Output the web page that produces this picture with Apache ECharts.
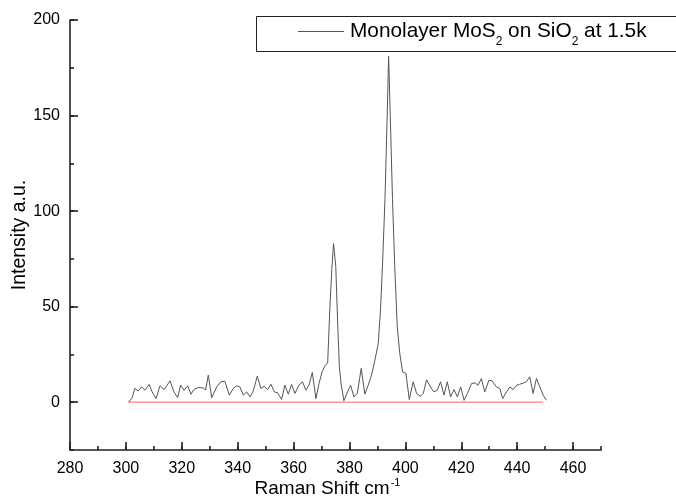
<!DOCTYPE html>
<html>
<head>
<meta charset="utf-8">
<script src="https://cdn.jsdelivr.net/npm/echarts@6/dist/echarts.min.js"></script>
<style>
  html, body { margin: 0; padding: 0; background: #fff; }
  #chart { width: 676px; height: 500px; }
</style>
</head>
<body>
<div id="chart"></div>
<script>
// Raman spectrum of monolayer MoS2 on SiO2
const shifts = [
  300.9, 302.1, 303.2, 304.4, 305.6, 306.8, 308.3, 309.4, 310.8, 312.2,
  313.7, 315.8, 317.2, 318.5, 319.6, 320.8, 322.1, 323.3, 324.3, 325.9,
  327.7, 328.5, 329.5, 330.7, 332.5, 334.0, 335.4, 337.0, 338.4, 339.6,
  340.8, 342.0, 343.2, 344.4, 345.6, 347.0, 348.3, 349.5, 350.7, 351.9,
  353.1, 354.3, 355.7, 356.9, 358.1, 359.3, 360.5, 361.9, 363.2, 364.4,
  365.5, 366.7, 368.0, 369.1, 370.2, 371.2, 372.2, 373.0, 373.7, 374.3,
  375.1, 375.8, 376.4, 377.0, 378.0, 379.3, 380.4, 381.6, 382.8, 384.2,
  385.5, 386.7, 387.9, 389.1, 390.3, 391.1, 391.8, 392.7, 393.5, 394.0,
  394.6, 395.4, 396.2, 397.1, 398.0, 399.0, 400.2, 401.4, 402.8, 404.0,
  405.4, 406.4, 407.6, 409.0, 410.2, 411.4, 412.6, 413.8, 415.0, 416.2,
  417.4, 418.6, 419.8, 421.0, 422.2, 423.7, 424.9, 426.0, 427.2, 428.4,
  429.9, 431.0, 432.6, 433.8, 434.8, 436.2, 437.4, 438.6, 439.8, 440.9,
  442.4, 443.3, 444.5, 445.7, 446.9, 448.1, 449.3, 450.5
];
const intensities = [
  0.2, 1.9, 7.2, 5.9, 8.0, 6.3, 9.3, 5.4, 1.9, 8.6,
  6.6, 11.2, 5.4, 2.4, 8.9, 6.3, 8.6, 4.2, 6.6, 7.7,
  7.5, 6.3, 14.2, 2.4, 8.0, 10.7, 11.0, 3.7, 7.2, 8.6,
  8.0, 3.7, 5.4, 2.8, 5.9, 13.6, 7.2, 8.4, 6.6, 9.4,
  5.4, 4.9, 1.4, 8.9, 4.2, 9.3, 4.6, 8.9, 10.7, 6.3,
  8.9, 15.6, 1.9, 9.8, 15.9, 18.9, 20.6, 50, 70, 83,
  71, 40, 18, 9.8, 0.8, 5.4, 8.9, 2.8, 4.6, 17.7,
  4.2, 8.9, 14.2, 22, 30.8, 48.3, 71, 106, 150, 181,
  150, 106, 71, 39.5, 25.5, 15.9, 15.1, 1.4, 10.7, 4.6,
  3.1, 4.6, 11.7, 8.0, 5.4, 6.3, 10.7, 3.7, 10.7, 2.8,
  6.6, 2.8, 8.0, 1.0, 4.6, 9.8, 10.1, 8.9, 12.4, 5.4,
  11.5, 11.2, 8.0, 7.2, 1.9, 5.4, 8.0, 6.6, 8.9, 9.4,
  10.1, 10.7, 13.3, 4.6, 12.4, 8.0, 3.7, 1.0
];
// zero reference line
const baseShifts = [300.9, 449.3];
const baseValues = [0, 0];

const xMajorTicks = [280, 300, 320, 340, 360, 380, 400, 420, 440, 460];
const yMajorTicks = [0, 50, 100, 150, 200];

const seriesName = 'Monolayer MoS2 on SiO2 at 1.5k';
const FONT = 'Liberation Sans, Arial, sans-serif';
const AXIS_COLOR = '#222';

const chart = echarts.init(document.getElementById('chart'), null, { renderer: 'canvas' });

const axisLineStyle = { show: true, onZero: false, lineStyle: { color: AXIS_COLOR, width: 1.6 } };

chart.setOption({
  animation: false,
  backgroundColor: '#fff',
  grid: { left: 70, right: 75, top: 20, bottom: 50, containLabel: false, outerBoundsMode: 'none' },
  // frame around the legend, running off the right edge
  graphic: [
    {
      type: 'rect',
      left: 256, top: 16,
      shape: { width: 440, height: 35 },
      style: { fill: '#fff', stroke: '#222', lineWidth: 1 },
      z: 10
    }
  ],
  legend: {
    data: [seriesName],
    left: 298,
    top: 21,
    padding: 0,
    itemWidth: 46,
    itemHeight: 1.2,
    itemGap: 0,
    icon: 'rect',
    itemStyle: { color: '#555', borderWidth: 0 },
    formatter: () => '{a|Monolayer MoS}{s|2}{a| on SiO}{s|2}{a| at 1.5k}',
    z: 20,
    textStyle: {
      fontFamily: FONT,
      color: '#000',
      padding: [0, 0, 0, 1],
      rich: {
        a: { fontSize: 20.8, fontFamily: FONT, color: '#000', lineHeight: 32, verticalAlign: 'middle' },
        s: { fontSize: 12, fontFamily: FONT, color: '#000', lineHeight: 12, verticalAlign: 'bottom' }
      }
    }
  },
  xAxis: [
    {
      type: 'value', min: 280, max: 470, position: 'bottom',
      axisLine: axisLineStyle,
      splitLine: { show: false },
      axisTick: { show: true, inside: true, length: 8, customValues: xMajorTicks,
                  lineStyle: { color: AXIS_COLOR, width: 1.6 } },
      axisLabel: { customValues: xMajorTicks, margin: 11, color: '#000', fontSize: 16, fontFamily: FONT },
      name: '{a|Raman Shift cm}{b|-1}',
      nameLocation: 'middle',
      nameGap: 28,
      nameMoveOverlap: false,
      nameTextStyle: {
        padding: [0, 16, 0, 0],
        rich: {
          a: { fontSize: 19, fontFamily: FONT, color: '#000', lineHeight: 22 },
          b: { fontSize: 11, fontFamily: FONT, color: '#000', lineHeight: 22, padding: [0, 0, 12, 1] }
        }
      }
    },
    {
      // minor ticks
      type: 'value', min: 280, max: 470, interval: 10, position: 'bottom',
      axisLine: { show: false, onZero: false },
      splitLine: { show: false },
      axisTick: { show: true, inside: true, length: 4, lineStyle: { color: AXIS_COLOR, width: 1.6 } },
      axisLabel: { show: false }
    }
  ],
  yAxis: [
    {
      type: 'value', min: -25, max: 200, position: 'left',
      axisLine: axisLineStyle,
      splitLine: { show: false },
      axisTick: { show: true, inside: true, length: 8, customValues: yMajorTicks,
                  lineStyle: { color: AXIS_COLOR, width: 1.6 } },
      axisLabel: { customValues: yMajorTicks, margin: 10, color: '#000', fontSize: 16, fontFamily: FONT },
      name: 'Intensity a.u.',
      nameLocation: 'middle',
      nameGap: 40,
      nameMoveOverlap: false,
      nameTextStyle: { fontSize: 19.5, fontFamily: FONT, color: '#000' }
    },
    {
      // minor ticks
      type: 'value', min: -25, max: 200, interval: 25, position: 'left',
      axisLine: { show: false, onZero: false },
      splitLine: { show: false },
      axisTick: { show: true, inside: true, length: 4, lineStyle: { color: AXIS_COLOR, width: 1.6 } },
      axisLabel: { show: false }
    }
  ],
  series: [
    {
      name: 'baseline',
      type: 'line',
      xAxisIndex: 0, yAxisIndex: 0,
      symbol: 'none',
      silent: true,
      lineStyle: { color: '#ff7f7f', width: 1.2 },
      data: baseShifts.map((x, i) => [x, baseValues[i]]),
      z: 1
    },
    {
      name: seriesName,
      type: 'line',
      xAxisIndex: 0, yAxisIndex: 0,
      symbol: 'none',
      lineStyle: { color: '#555', width: 1 },
      itemStyle: { color: '#555' },
      data: shifts.map((x, i) => [x, intensities[i]]),
      z: 2
    }
  ]
});
</script>
</body>
</html>
